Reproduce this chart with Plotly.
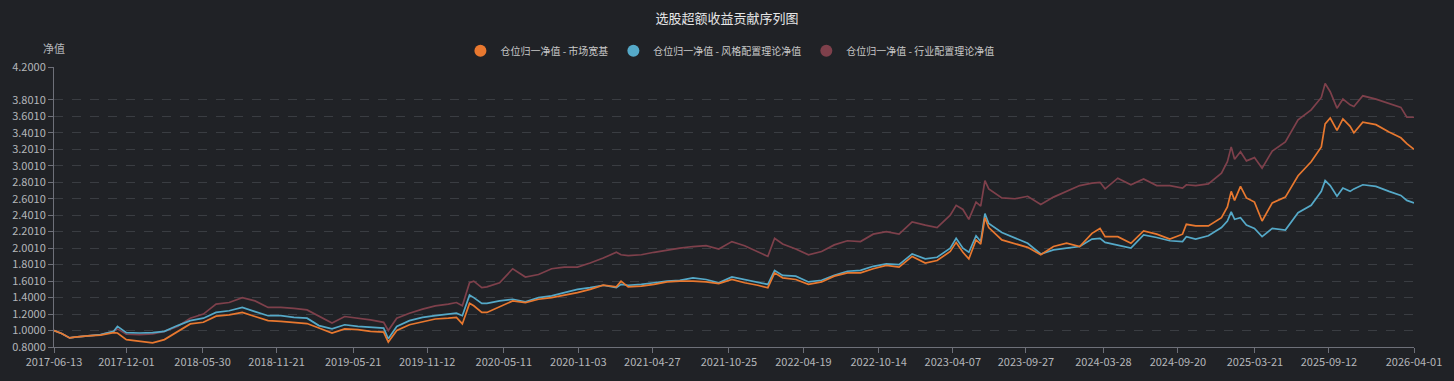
import plotly.graph_objects as go

# ---------------- data ----------------
dates = [
    "2017-06-13", "2017-07-01", "2017-07-20", "2017-08-01", "2017-09-01", "2017-10-01",
    "2017-11-01", "2017-11-10", "2017-12-01", "2018-01-01", "2018-02-01", "2018-03-01",
    "2018-04-01", "2018-05-01", "2018-06-01", "2018-07-01", "2018-08-01", "2018-09-01",
    "2018-10-01", "2018-11-01", "2018-12-01", "2019-01-01", "2019-02-01", "2019-03-01",
    "2019-04-01", "2019-05-01", "2019-06-01", "2019-07-01", "2019-08-01", "2019-08-12",
    "2019-09-01", "2019-10-01", "2019-11-01", "2019-12-01", "2020-01-01", "2020-01-20",
    "2020-02-03", "2020-02-20", "2020-03-01", "2020-03-20", "2020-04-01", "2020-05-01",
    "2020-06-01", "2020-07-01", "2020-08-01", "2020-09-01", "2020-10-01", "2020-11-01",
    "2020-12-01", "2021-01-01", "2021-02-01", "2021-02-12", "2021-03-01", "2021-04-01",
    "2021-05-01", "2021-06-01", "2021-07-01", "2021-08-01", "2021-09-01", "2021-10-01",
    "2021-11-01", "2021-12-01", "2022-01-01", "2022-01-25", "2022-02-10", "2022-03-01",
    "2022-04-01", "2022-05-01", "2022-06-01", "2022-07-01", "2022-08-01", "2022-09-01",
    "2022-10-01", "2022-11-01", "2022-12-01", "2023-01-01", "2023-02-01", "2023-03-01",
    "2023-04-01", "2023-04-15", "2023-05-01", "2023-05-15", "2023-06-01", "2023-06-12",
    "2023-06-22", "2023-07-01", "2023-08-01", "2023-09-01", "2023-10-01", "2023-11-01",
    "2023-12-01", "2024-01-01", "2024-02-01", "2024-03-01", "2024-03-20", "2024-04-01",
    "2024-05-01", "2024-06-01", "2024-07-01", "2024-08-01", "2024-09-01", "2024-10-01",
    "2024-10-10", "2024-11-01", "2024-12-01", "2025-01-01", "2025-01-15", "2025-01-24",
    "2025-02-01", "2025-02-15", "2025-03-01", "2025-03-20", "2025-04-07", "2025-05-01",
    "2025-06-01", "2025-07-01", "2025-08-01", "2025-08-25", "2025-09-03", "2025-09-15",
    "2025-10-01", "2025-10-15", "2025-11-01", "2025-11-10", "2025-12-01", "2026-01-01",
    "2026-02-01", "2026-03-01", "2026-03-15", "2026-04-01",
]

market = [
    1.00, 0.965, 0.91, 0.92, 0.935, 0.945,
    0.975, 0.97, 0.89, 0.87, 0.85, 0.89,
    0.99, 1.08, 1.10, 1.175, 1.19, 1.22,
    1.17, 1.12, 1.11, 1.10, 1.085, 1.03,
    0.97, 1.02, 1.01, 0.99, 0.98, 0.86,
    1.00, 1.07, 1.11, 1.14, 1.15, 1.16,
    1.08, 1.33, 1.30, 1.22, 1.22, 1.29,
    1.36, 1.34, 1.38, 1.40, 1.43, 1.46,
    1.50, 1.55, 1.53, 1.60, 1.53, 1.54,
    1.56, 1.59, 1.60, 1.60, 1.59, 1.57,
    1.62, 1.58, 1.55, 1.52, 1.70, 1.64,
    1.62, 1.56, 1.59, 1.66, 1.70, 1.70,
    1.75, 1.79, 1.77, 1.90, 1.82, 1.85,
    1.96, 2.07, 1.95, 1.87, 2.10, 2.05,
    2.37, 2.25, 2.10, 2.05, 2.01, 1.92,
    2.02, 2.06, 2.02, 2.18, 2.24, 2.14,
    2.14, 2.06, 2.21, 2.17, 2.11, 2.17,
    2.29, 2.27, 2.27, 2.37, 2.50, 2.69,
    2.58, 2.75, 2.61, 2.56, 2.33, 2.55,
    2.62, 2.88, 3.05, 3.23, 3.51, 3.58,
    3.43, 3.57, 3.48, 3.40, 3.53, 3.50,
    3.41, 3.34, 3.27, 3.20,
]

style = [
    1.00, 0.965, 0.91, 0.92, 0.935, 0.95,
    0.99, 1.05, 0.975, 0.97, 0.975, 0.99,
    1.06, 1.12, 1.15, 1.22, 1.24, 1.28,
    1.23, 1.18, 1.18, 1.16, 1.15, 1.06,
    1.02, 1.07, 1.05, 1.04, 1.03, 0.90,
    1.05, 1.12, 1.16, 1.18, 1.20, 1.21,
    1.18, 1.43, 1.40, 1.33, 1.33, 1.36,
    1.38, 1.35, 1.40, 1.42, 1.46, 1.50,
    1.52, 1.55, 1.52, 1.56, 1.55, 1.56,
    1.58, 1.60, 1.61, 1.64, 1.62, 1.58,
    1.65, 1.62, 1.59, 1.56, 1.73, 1.67,
    1.66, 1.59, 1.61, 1.67, 1.72, 1.73,
    1.78, 1.81, 1.80, 1.93, 1.87, 1.89,
    2.00, 2.12, 2.00, 1.95, 2.15, 2.08,
    2.42, 2.30, 2.19, 2.12, 2.06, 1.93,
    1.98, 2.00, 2.02, 2.11, 2.12, 2.07,
    2.04, 2.00, 2.16, 2.13, 2.09, 2.08,
    2.14, 2.11, 2.15, 2.25, 2.33, 2.44,
    2.35, 2.37, 2.28, 2.24, 2.14, 2.24,
    2.22, 2.43, 2.52, 2.69, 2.82, 2.76,
    2.63, 2.73, 2.69, 2.72, 2.77, 2.75,
    2.69, 2.64, 2.58, 2.55,
]

industry = [
    1.00, 0.965, 0.91, 0.92, 0.935, 0.95,
    0.99, 1.02, 0.955, 0.95, 0.96, 0.99,
    1.05, 1.15, 1.20, 1.32, 1.34, 1.40,
    1.36, 1.28, 1.28, 1.27, 1.25, 1.17,
    1.09, 1.17, 1.15, 1.13, 1.10, 1.00,
    1.15, 1.21, 1.26, 1.30, 1.32, 1.34,
    1.30, 1.58, 1.60, 1.52, 1.53, 1.58,
    1.75, 1.65, 1.68, 1.75, 1.77, 1.77,
    1.82, 1.88, 1.95, 1.92, 1.91, 1.92,
    1.95, 1.98, 2.00, 2.02, 2.03, 1.99,
    2.08, 2.03, 1.96, 1.90, 2.12, 2.05,
    1.99, 1.92, 1.96, 2.04, 2.09, 2.08,
    2.17, 2.20, 2.17, 2.32, 2.28, 2.25,
    2.40, 2.52, 2.47, 2.35, 2.56, 2.51,
    2.82, 2.72, 2.61, 2.60, 2.63, 2.53,
    2.62, 2.69, 2.76, 2.79, 2.80, 2.72,
    2.85, 2.77, 2.84, 2.76, 2.76, 2.73,
    2.77, 2.76, 2.78, 2.91, 3.05, 3.23,
    3.08, 3.17, 3.06, 3.10, 2.97, 3.18,
    3.29, 3.56, 3.68, 3.83, 4.00, 3.90,
    3.70, 3.81, 3.74, 3.72, 3.85, 3.81,
    3.76, 3.71, 3.59, 3.59,
]

series_names = [
    "仓位归一净值 - 市场宽基",
    "仓位归一净值 - 风格配置理论净值",
    "仓位归一净值 - 行业配置理论净值",
]

y_tick_vals = [0.8, 1.0, 1.2, 1.4, 1.601, 1.801, 2.001, 2.201, 2.401,
               2.601, 2.801, 3.001, 3.201, 3.401, 3.601, 3.801, 4.2]
y_tick_text = ["0.8000", "1.0000", "1.2000", "1.4000", "1.6010", "1.8010",
               "2.0010", "2.2010", "2.4010", "2.6010", "2.8010", "3.0010",
               "3.2010", "3.4010", "3.6010", "3.8010", "4.2000"]

x_tick_labels = [
    "2017-06-13", "2017-12-01", "2018-05-30", "2018-11-21", "2019-05-21",
    "2019-11-12", "2020-05-11", "2020-11-03", "2021-04-27", "2021-10-25",
    "2022-04-19", "2022-10-14", "2023-04-07", "2023-09-27", "2024-03-28",
    "2024-09-20", "2025-03-21", "2025-09-12", "2026-04-01",
]

title_text = "选股超额收益贡献序列图"
y_name = "净值"

# ---------------- styles ----------------
colors = ["#E8782F", "#55A9C8", "#7E404B"]
bg = "#202226"
axis_col = "#6E7079"
grid_col = "#3A3D42"
text_col = "#B4B6BA"
font_family = "Noto Sans CJK SC, Noto Sans, sans-serif"

fig = go.Figure()

# legend entries (circle icons, as in the original)
for name, c in zip(series_names, colors):
    fig.add_trace(go.Scatter(
        x=[None], y=[None], mode="markers", name=name,
        marker=dict(color=c, size=12), hoverinfo="skip", showlegend=True,
    ))

# actual lines (market line drawn last so it sits on top)
series_vals = [market, style, industry]
for vals, name, c in reversed(list(zip(series_vals, series_names, colors))):
    fig.add_trace(go.Scatter(
        x=dates, y=vals, mode="lines", name=name,
        line=dict(color=c, width=1.7), showlegend=False,
    ))

fig.update_layout(
    width=1454, height=381,
    margin=dict(l=49, r=34, t=67, b=20),
    paper_bgcolor=bg, plot_bgcolor=bg,
    font=dict(family=font_family, size=11, color=text_col),
    title=dict(text=title_text, x=0.5, xanchor="center",
               y=1 - 18 / 381, yanchor="middle",
               font=dict(size=13, color="#E6E6E6", family=font_family)),
    legend=dict(orientation="h", x=0.497, xanchor="center",
                y=1.058, yanchor="middle",
                font=dict(size=10, color="#C8C8C8"),
                itemwidth=30, bgcolor="rgba(0,0,0,0)"),
    showlegend=True,
    xaxis=dict(
        type="date", range=[dates[0], dates[-1]],
        tickmode="array", tickvals=x_tick_labels, ticktext=x_tick_labels,
        ticks="outside", ticklen=5, tickcolor=axis_col,
        showline=True, linecolor=axis_col, linewidth=1,
        showgrid=False, zeroline=False,
        tickfont=dict(size=11, color=text_col),
    ),
    yaxis=dict(
        range=[0.8, 4.2],
        tickmode="array", tickvals=y_tick_vals, ticktext=y_tick_text,
        ticks="outside", ticklen=5, tickcolor=axis_col,
        showline=True, linecolor=axis_col, linewidth=1,
        showgrid=True, gridcolor=grid_col, griddash="dash", gridwidth=1,
        zeroline=False,
        tickfont=dict(size=11, color=text_col),
    ),
    annotations=[dict(
        text=y_name, xref="paper", yref="paper", x=0, y=1.068,
        xanchor="center", yanchor="middle", showarrow=False,
        font=dict(size=11, color=text_col),
    )],
)

fig.write_html("out.html", config={"displayModeBar": False})
